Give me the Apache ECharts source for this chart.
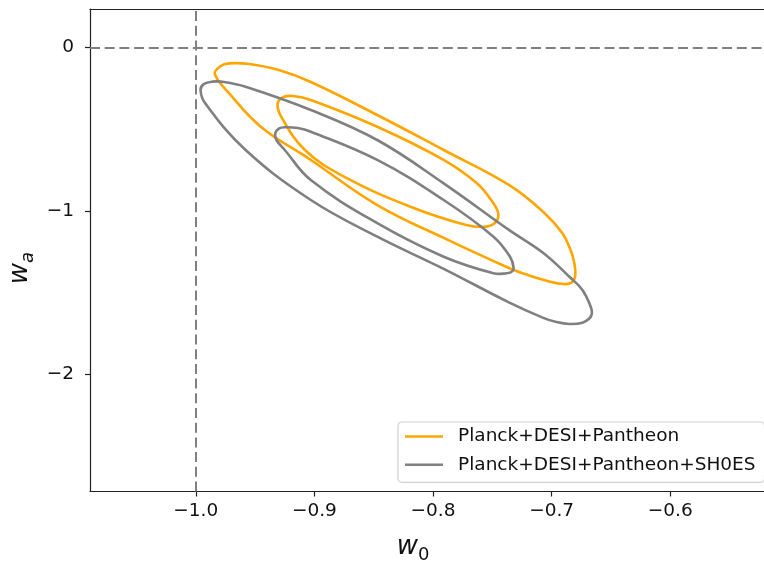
<!DOCTYPE html>
<html>
<head>
<meta charset="utf-8">
<script src="https://cdn.jsdelivr.net/npm/echarts@6/dist/echarts.min.js"></script>
<style>html,body{margin:0;padding:0;background:#fff;}#c{width:764px;height:563px;}</style>
</head>
<body>
<div id="c"></div>
<script>
// ---- data ----
const seriesNames = ['Planck+DESI+Pantheon', 'Planck+DESI+Pantheon+SH0ES'];
const xTicks = [-1.0, -0.9, -0.8, -0.7, -0.6];
const yTicks = [0, -1, -2];
const xRange = [-1.0892, -0.5209];
const yRange = [-2.7168, 0.2343];
const refW0 = -1;
const refWa = 0;

// Planck+DESI+Pantheon, 2-sigma contour (closed loop)
const orangeOuter = [
  [-0.847,-0.414],[-0.791,-0.628],[-0.736,-0.842],[-0.707,-1.007],
  [-0.691,-1.136],[-0.684,-1.240],[-0.681,-1.313],[-0.680,-1.370],[-0.6805,-1.411],
  [-0.6835,-1.440],[-0.690,-1.448],[-0.702,-1.432],[-0.721,-1.390],[-0.736,-1.350],
  [-0.791,-1.166],[-0.847,-0.965],[-0.903,-0.689],[-0.945,-0.487],[-0.972,-0.280],
  [-0.984,-0.163],[-0.979,-0.114],[-0.972,-0.098],[-0.955,-0.102],[-0.930,-0.139],
  [-0.903,-0.212]
];
// Planck+DESI+Pantheon, 1-sigma contour
const orangeInner = [
  [-0.847,-0.486],[-0.791,-0.689],[-0.763,-0.832],[-0.751,-0.934],[-0.745,-1.013],
  [-0.747,-1.068],[-0.755,-1.097],[-0.772,-1.087],[-0.819,-0.975],[-0.875,-0.791],
  [-0.908,-0.628],[-0.928,-0.424],[-0.931,-0.343],[-0.926,-0.304],[-0.918,-0.298],
  [-0.903,-0.322]
];
// Planck+DESI+Pantheon+SH0ES, 2-sigma contour
const grayOuter = [
  [-0.847,-0.567],[-0.791,-0.832],[-0.736,-1.117],[-0.707,-1.258],
  [-0.685,-1.403],[-0.674,-1.484],[-0.667,-1.587],[-0.666,-1.627],[-0.668,-1.657],
  [-0.674,-1.684],[-0.685,-1.692],[-0.696,-1.680],[-0.707,-1.655],[-0.736,-1.560],
  [-0.791,-1.355],[-0.847,-1.158],[-0.903,-0.934],[-0.958,-0.628],[-0.992,-0.343],
  [-0.996,-0.261],[-0.993,-0.224],[-0.986,-0.210],[-0.976,-0.212],[-0.958,-0.241],
  [-0.903,-0.383]
];
// Planck+DESI+Pantheon+SH0ES, 1-sigma contour
const grayInner = [
  [-0.847,-0.689],[-0.791,-0.934],[-0.749,-1.158],[-0.735,-1.281],[-0.732,-1.352],
  [-0.734,-1.374],[-0.738,-1.382],[-0.749,-1.382],[-0.791,-1.281],[-0.847,-1.076],
  [-0.903,-0.812],[-0.925,-0.628],[-0.932,-0.567],[-0.933,-0.526],[-0.930,-0.497],
  [-0.925,-0.489],[-0.914,-0.494],[-0.903,-0.516]
];

// ---- chart ----
const FONT = 'DejaVu Sans';
const ORANGE = '#FFA500';
const GRAY = '#808080';
const SPINE = { color: '#222', width: 1.2 };
const minus = s => String(s).replace('-', '\u2212');

// closed smooth contour drawn through the cartesian scales (api.coord)
function contour(name, data, color) {
  return {
    type: 'custom', name: name, coordinateSystem: 'cartesian2d',
    data: data, encode: { x: 0, y: 1 },
    itemStyle: { color: color },
    renderItem: function (params, api) {
      if (params.dataIndex !== 0) return null;
      const pts = data.map(p => api.coord(p));
      return {
        type: 'polygon', silent: true,
        shape: { points: pts, smooth: 0.4 },
        style: { fill: null, stroke: color, lineWidth: 2.6, lineJoin: 'round' }
      };
    },
    silent: true, animation: false, z: 3
  };
}

const chart = echarts.init(document.getElementById('c'), null, { renderer: 'canvas' });
chart.setOption({
  animation: false,
  backgroundColor: '#fff',
  grid: { left: 90, top: 9, right: -6, bottom: 71.5, show: false },
  xAxis: [
    {
      type: 'value', position: 'bottom', min: xRange[0], max: xRange[1],
      axisLine: { show: true, onZero: false, lineStyle: SPINE },
      axisTick: { show: true, length: 5, inside: false, customValues: xTicks, lineStyle: SPINE },
      axisLabel: { customValues: xTicks, margin: 10, fontFamily: FONT, fontSize: 18.5, color: '#111',
        formatter: v => minus(Number(v).toFixed(1)) },
      splitLine: { show: false }
    },
    {
      type: 'value', position: 'top', min: xRange[0], max: xRange[1],
      axisLine: { show: true, onZero: false, lineStyle: SPINE },
      axisTick: { show: false }, axisLabel: { show: false }, splitLine: { show: false }
    }
  ],
  yAxis: {
    type: 'value', min: yRange[0], max: yRange[1],
    axisLine: { show: true, onZero: false, lineStyle: SPINE },
    axisTick: { show: true, length: 5, inside: false, customValues: yTicks, lineStyle: SPINE },
    axisLabel: { customValues: yTicks, margin: 16, fontFamily: FONT, fontSize: 18.5, color: '#111',
      formatter: v => minus(Math.round(v)) },
    splitLine: { show: false }
  },
  legend: {
    orient: 'vertical', left: 398, top: 422,
    data: [
      { name: seriesNames[0], icon: 'rect', itemStyle: { color: ORANGE } },
      { name: seriesNames[1], icon: 'rect', itemStyle: { color: GRAY } }
    ],
    itemWidth: 38, itemHeight: 2.6, itemGap: 9.3,
    padding: [5, 9, 8, 7],
    backgroundColor: 'rgba(255,255,255,0.8)', borderColor: '#d0d0d0', borderWidth: 1.2, borderRadius: 4,
    textStyle: { fontFamily: FONT, fontSize: 18.5, color: '#111', lineHeight: 18, padding: [0, 0, 0, 10] },
    selectedMode: false
  },
  series: [
    contour(seriesNames[0], orangeOuter, ORANGE),
    contour(seriesNames[0], orangeInner, ORANGE),
    contour(seriesNames[1], grayOuter, GRAY),
    contour(seriesNames[1], grayInner, GRAY),
    {
      type: 'line', name: 'refs', data: [], silent: true, z: 2,
      markLine: {
        silent: true, symbol: ['none', 'none'], label: { show: false },
        lineStyle: { color: GRAY, width: 2, type: [10, 4.7] },
        data: [{ xAxis: refW0 }, { yAxis: refWa }],
        animation: false
      }
    }
  ],
  graphic: [
    {
      type: 'text', x: 413, y: 549,
      style: {
        text: '{w|w}{s|0}', align: 'center', verticalAlign: 'middle',
        rich: {
          w: { fontFamily: FONT, fontStyle: 'italic', fontSize: 26, lineHeight: 30, verticalAlign: 'top', fill: '#111' },
          s: { fontFamily: FONT, fontSize: 18, lineHeight: 18, verticalAlign: 'top', padding: [12, 0, 0, 0], fill: '#111' }
        }
      }
    },
    {
      type: 'text', x: 22, y: 268, rotation: Math.PI / 2,
      style: {
        text: '{w|w}{s|a}', align: 'center', verticalAlign: 'middle',
        rich: {
          w: { fontFamily: FONT, fontStyle: 'italic', fontSize: 26, lineHeight: 30, verticalAlign: 'top', fill: '#111' },
          s: { fontFamily: FONT, fontStyle: 'italic', fontSize: 18, lineHeight: 18, verticalAlign: 'top', padding: [12, 0, 0, 0], fill: '#111' }
        }
      }
    }
  ]
});
</script>
</body>
</html>
